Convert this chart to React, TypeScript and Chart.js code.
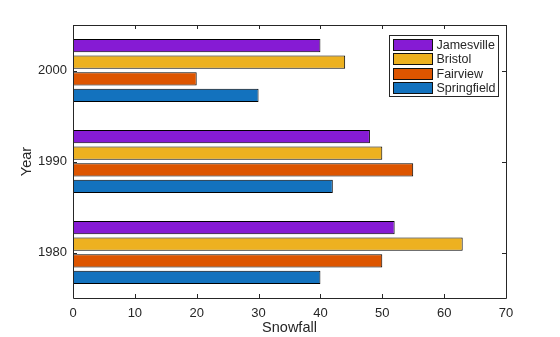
import React, { useEffect, useRef } from "react";
import { Chart, registerables } from "chart.js";

Chart.register(...registerables);

const years = ["2000", "1990", "1980"];
const seriesNames = ["Jamesville", "Bristol", "Fairview", "Springfield"];
const jamesville = [40, 48, 52];
const bristol = [44, 50, 63];
const fairview = [20, 55, 50];
const springfield = [30, 42, 40];
const xTicks = [0, 10, 20, 30, 40, 50, 60, 70];
const colors = ["#861bd4", "#edb120", "#dd5500", "#1372be"];

const FONT = "'Liberation Sans', Arial, Helvetica, sans-serif";

const frame = {
  id: "frame",
  afterDatasetsDraw(chart: any) {
    const { ctx, chartArea: a, scales } = chart;
    ctx.save();
    ctx.strokeStyle = "#262626";
    ctx.lineWidth = 1;
    ctx.beginPath();
    ctx.rect(Math.round(a.left) + 0.5, Math.round(a.top) + 0.5, Math.round(a.right - a.left), Math.round(a.bottom - a.top));
    ctx.stroke();
    const tl = 4;
    ctx.beginPath();
    for (const v of xTicks) {
      const x = Math.round(scales.x.getPixelForValue(v)) + 0.5;
      ctx.moveTo(x, a.bottom);
      ctx.lineTo(x, a.bottom - tl);
      ctx.moveTo(x, a.top);
      ctx.lineTo(x, a.top + tl);
    }
    for (let i = 0; i < years.length; i++) {
      const y = Math.round(scales.y.getPixelForValue(i)) + 0.5;
      ctx.moveTo(a.left, y);
      ctx.lineTo(a.left + tl, y);
      ctx.moveTo(a.right, y);
      ctx.lineTo(a.right - tl, y);
    }
    ctx.stroke();

    // legend
    const lx = 389.5, ly = 35.5, lw = 109, lh = 61;
    ctx.fillStyle = "#fff";
    ctx.fillRect(lx, ly, lw, lh);
    ctx.strokeStyle = "#262626";
    ctx.strokeRect(lx, ly, lw, lh);
    ctx.font = `12.5px ${FONT}`;
    ctx.textBaseline = "middle";
    for (let i = 0; i < seriesNames.length; i++) {
      const cy = ly + 9.5 + i * 14.4;
      ctx.fillStyle = colors[i];
      ctx.fillRect(lx + 4, Math.round(cy - 6) + 0.5, 39, 11);
      ctx.strokeStyle = "#111";
      ctx.strokeRect(lx + 4, Math.round(cy - 6) + 0.5, 39, 11);
      ctx.fillStyle = "#262626";
      ctx.fillText(seriesNames[i], lx + 47, cy + 0.5);
    }
    ctx.restore();
  },
};

export default function App() {
  const ref = useRef<HTMLCanvasElement>(null);
  useEffect(() => {
    const data = [jamesville, bristol, fairview, springfield];
    const chart = new Chart(ref.current as HTMLCanvasElement, {
      type: "bar",
      data: {
        labels: years,
        datasets: seriesNames.map((n, i) => ({
          label: n,
          data: data[i],
          backgroundColor: colors[i],
          borderColor: "#000",
          borderWidth: 1,
          borderSkipped: false,
          inflateAmount: 0,
          categoryPercentage: 0.727,
          barPercentage: 0.8,
        })),
      },
      plugins: [frame],
      options: {
        indexAxis: "y",
        animation: false,
        responsive: false,
        layout: { padding: { top: 25, right: 54, left: 18, bottom: 0 } },
        plugins: { legend: { display: false }, tooltip: { enabled: false } },
        scales: {
          x: {
            min: 0,
            max: 70,
            grid: { display: false, drawTicks: false },
            border: { display: false },
            afterFit: (s: any) => { s.height = 39; },
            afterBuildTicks: (s: any) => { s.ticks = xTicks.map((v) => ({ value: v })); },
            ticks: { color: "#262626", font: { family: FONT, size: 13 }, padding: 8, maxRotation: 0 },
            title: { display: true, text: "Snowfall", color: "#262626", font: { family: FONT, size: 14.5 }, padding: { top: 0, bottom: 0 } },
          },
          y: {
            grid: { display: false, drawTicks: false },
            border: { display: false },
            afterFit: (s: any) => { s.width = 55; },
            ticks: { color: "#262626", font: { family: FONT, size: 13 }, padding: 6 },
            title: { display: true, text: "Year", color: "#262626", font: { family: FONT, size: 14.5 }, padding: { top: 0, bottom: 0 } },
          },
        },
      },
    });
    return () => chart.destroy();
  }, []);
  return (
    <div style={{ position: "fixed", left: 0, top: 0, width: 560, height: 337, background: "#fff" }}>
      <canvas ref={ref} width={560} height={337} style={{ width: 560, height: 337 }} />
    </div>
  );
}
